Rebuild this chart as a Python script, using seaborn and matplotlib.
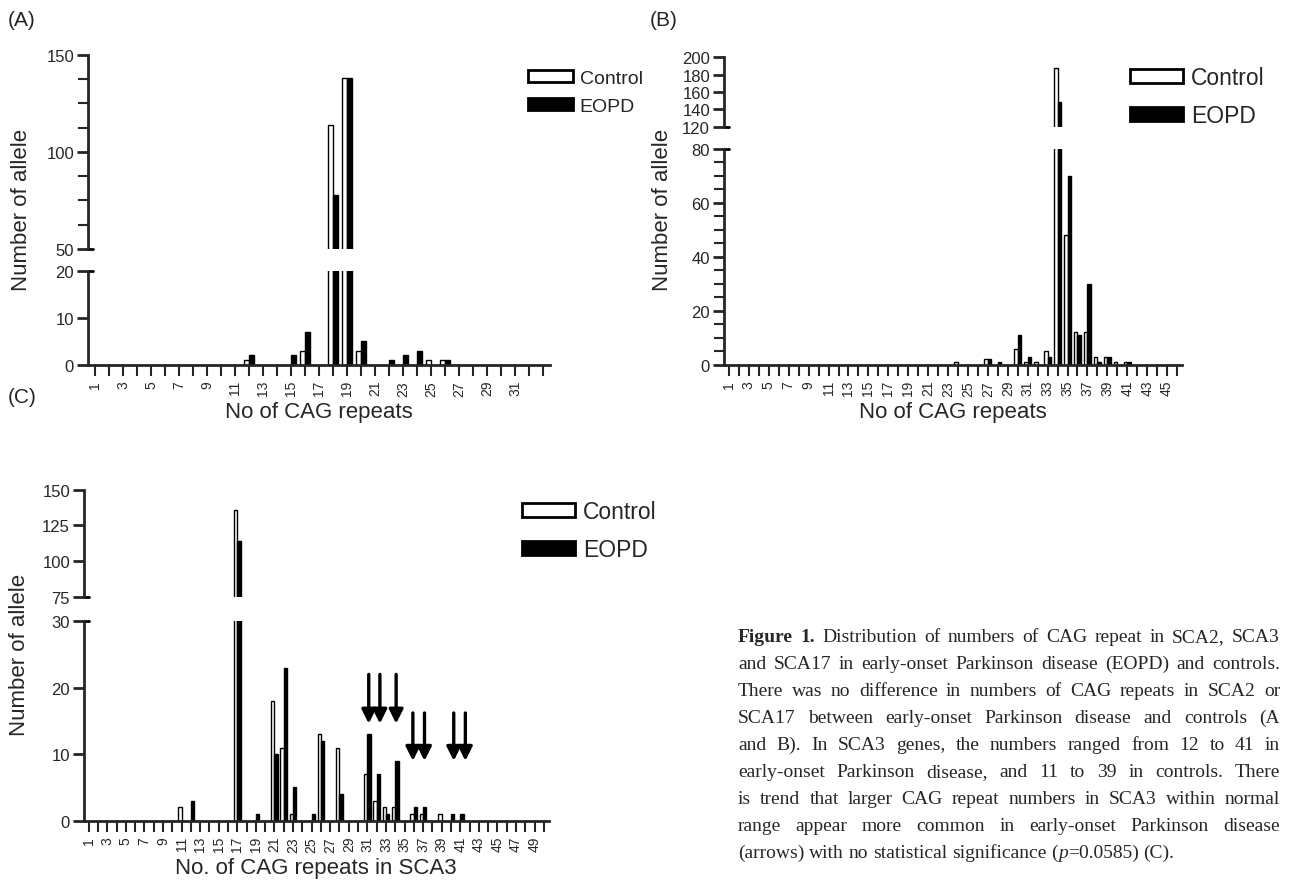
import pandas as pd
import seaborn as sns
import matplotlib.pyplot as plt
import matplotlib.patches as mpatches

# 資料：CAG repeat 次數（只列出非零的）
sca2_rep = [12, 15, 16, 18, 19, 20, 22, 23, 24, 25, 26]
sca2_ctrl = [1, 0, 3, 114, 138, 3, 0, 0, 0, 1, 1]
sca2_eopd = [2, 2, 7, 78, 138, 5, 1, 2, 3, 0, 1]

sca17_rep = [24, 27, 28, 30, 31, 32, 33, 34, 35, 36, 37, 38, 39, 40, 41]
sca17_ctrl = [1, 2, 0, 6, 1, 1, 5, 188, 48, 12, 12, 3, 3, 1, 1]
sca17_eopd = [0, 2, 1, 11, 3, 0, 3, 148, 70, 11, 30, 1, 3, 0, 1]

sca3_rep = [11, 12, 17, 19, 21, 22, 23, 25, 26, 28, 31, 32, 33, 34, 36, 37, 39, 40, 41]
sca3_ctrl = [2, 0, 136, 0, 18, 11, 1, 0, 13, 11, 7, 3, 2, 2, 1, 1, 1, 0, 0]
sca3_eopd = [0, 3, 114, 1, 10, 23, 5, 1, 12, 4, 13, 7, 1, 9, 2, 2, 0, 1, 1]

# 箭頭（SCA3 面板）
arrow_x = [31.15, 32.35, 34.1, 35.9, 37.15, 40.3, 41.55]
arrow_top = [22, 22, 22, 16.2, 16.2, 16.2, 16.2]
arrow_tip = [14.6, 14.6, 14.6, 9, 9, 9, 9]

groups = ['Control', 'EOPD']
pal = {'Control': 'white', 'EOPD': 'black'}

caption = [
    "Figure 1. Distribution of numbers of CAG repeat in SCA2, SCA3",
    "and SCA17 in early-onset Parkinson disease (EOPD) and controls.",
    "There was no difference in numbers of CAG repeats in SCA2 or",
    "SCA17 between early-onset Parkinson disease and controls (A",
    "and B). In SCA3 genes, the numbers ranged from 12 to 41 in",
    "early-onset Parkinson disease, and 11 to 39 in controls. There",
    "is trend that larger CAG repeat numbers in SCA3 within normal",
    "range appear more common in early-onset Parkinson disease",
    "(arrows) with no statistical significance (p=0.0585) (C).",
]

sns.set_theme(style='ticks')
plt.rcParams['font.family'] = ['Liberation Sans', 'DejaVu Sans']

W, H = 1290, 887
fig = plt.figure(figsize=(W / 100, H / 100), dpi=100)


def make_df(reps, ctrl, eopd, n):
    c = dict(zip(reps, ctrl))
    e = dict(zip(reps, eopd))
    rows = [(r, 'Control', c.get(r, 0)) for r in range(1, n + 1)]
    rows += [(r, 'EOPD', e.get(r, 0)) for r in range(1, n + 1)]
    return pd.DataFrame(rows, columns=['repeat', 'group', 'count'])


def px_axes(x0, x1, y0, y1):
    return fig.add_axes([x0 / W, 1 - y1 / H, (x1 - x0) / W, (y1 - y0) / H])


def panel(df, n, x0, x1, top_px, bot_px, top_lim, bot_lim, top_ticks, bot_ticks,
          top_minor, bot_minor, width, xlabel, last_label):
    ax_t = px_axes(x0, x1, *top_px)
    ax_b = px_axes(x0, x1, *bot_px)
    for ax in (ax_t, ax_b):
        sns.barplot(data=df, x='repeat', y='count', hue='group', hue_order=groups,
                    order=list(range(1, n + 1)), palette=pal, saturation=1,
                    edgecolor='black', linewidth=1, width=width, errorbar=None,
                    legend=False, ax=ax)
        ax.set_xlim(-0.5, n - 0.5)
        ax.set_ylabel('')
        ax.set_xlabel('')
        ax.set_facecolor('none')
        for s in ['top', 'right']:
            ax.spines[s].set_visible(False)
        ax.spines['left'].set_linewidth(2)
        ax.tick_params(axis='y', length=8, width=2, labelsize=12, pad=2)
        ax.tick_params(axis='y', which='minor', length=7, width=1.5)
    ax_t.set_ylim(*top_lim)
    ax_b.set_ylim(*bot_lim)
    ax_t.spines['bottom'].set_visible(False)
    ax_t.tick_params(axis='x', bottom=False, labelbottom=False)
    ax_t.set_yticks(top_ticks)
    ax_b.set_yticks(bot_ticks)
    if top_minor:
        ax_t.set_yticks(top_minor, minor=True)
    if bot_minor:
        ax_b.set_yticks(bot_minor, minor=True)
    ax_b.spines['bottom'].set_linewidth(2)
    ax_b.set_xticks(range(n))
    ax_b.set_xticklabels([str(i) if i % 2 == 1 and i <= last_label else ''
                          for i in range(1, n + 1)], rotation=90, fontsize=10)
    ax_b.tick_params(axis='x', length=8, width=1.5, pad=3)
    ax_b.set_xlabel(xlabel, fontsize=16, labelpad=4)
    # 斷軸的端點
    cap = 5 / (x1 - x0)
    ax_t.plot([0, cap], [top_lim[0], top_lim[0]], transform=ax_t.get_yaxis_transform(),
              color='black', lw=2, clip_on=False)
    ax_b.plot([0, cap], [bot_lim[1], bot_lim[1]], transform=ax_b.get_yaxis_transform(),
              color='black', lw=2, clip_on=False)
    return ax_t, ax_b


handles = [mpatches.Patch(facecolor=pal[g], edgecolor='black', linewidth=2, label=g)
           for g in groups]


def legend(x, y, fs, spacing):
    fig.legend(handles=handles, loc='upper left', bbox_to_anchor=(x / W, 1 - y / H),
               frameon=False, fontsize=fs, handlelength=2.3, handleheight=0.55,
               handletextpad=0.35, labelspacing=spacing, borderaxespad=0, borderpad=0)


# (A) SCA2
dfa = make_df(sca2_rep, sca2_ctrl, sca2_eopd, 33)
panel(dfa, 33, 88, 550, (55.7, 250), (272.3, 365.7), (50, 150), (0, 20),
      [50, 100, 150], [0, 10, 20], [62.5, 75, 87.5, 112.5, 125, 137.5], None,
      0.67, 'No of CAG repeats', 31)

# (B) SCA17
dfb = make_df(sca17_rep, sca17_ctrl, sca17_eopd, 46)
panel(dfb, 46, 724, 1182, (58.3, 127.7), (150, 365.7), (120, 200), (0, 80),
      [120, 140, 160, 180, 200], [0, 20, 40, 60, 80], None,
      [5, 10, 15, 25, 30, 35, 45, 50, 55, 65, 70, 75], 0.73, 'No of CAG repeats', 45)

# (C) SCA3
dfc = make_df(sca3_rep, sca3_ctrl, sca3_eopd, 50)
ax_ct, ax_cb = panel(dfc, 50, 84, 548.5, (490.7, 597.7), (622.2, 821.7), (75, 150),
                     (0, 30), [75, 100, 125, 150], [0, 10, 20, 30], None, None,
                     0.72, 'No. of CAG repeats in SCA3', 49)
for xa, yt, yp in zip(arrow_x, arrow_top, arrow_tip):
    ax_cb.annotate('', xy=(xa - 1, yp), xytext=(xa - 1, yt),
                   arrowprops=dict(arrowstyle='-|>', color='black', lw=2.4,
                                   mutation_scale=21, shrinkA=0, shrinkB=0))

legend(528, 71, 14, 0.55)
legend(1130, 67, 16.5, 0.65)
legend(522, 501, 16.5, 0.65)

# y labels and panel letters
for x, y in [(22, 210), (662, 210), (20, 655)]:
    fig.text(x / W, 1 - y / H, 'Number of allele', rotation=90, fontsize=16,
             ha='center', va='center')
for s, x, y in [('(A)', 8, 20), ('(B)', 650, 20), ('(C)', 8, 398)]:
    fig.text(x / W, 1 - y / H, s, fontsize=15, ha='left', va='center')

# 圖說，左右對齊
fig.canvas.draw()
r = fig.canvas.get_renderer()
cap_left, cap_right, base0, lh = 738, 1280, 642, 27
serif = ['Liberation Serif', 'DejaVu Serif']


def seg_width(s, **kw):
    t = fig.text(0, 0, s, fontsize=14, family=serif, **kw)
    w = t.get_window_extent(r).width
    t.remove()
    return w


for i, line in enumerate(caption):
    words = []
    for j, w in enumerate(line.split(' ')):
        if i == 0 and j < 2:
            words.append([(w, {'weight': 'bold'})])
        elif w.startswith('(p='):
            words.append([('(', {}), ('p', {'style': 'italic'}), (w[2:], {})])
        else:
            words.append([(w, {})])
    widths = [sum(seg_width(s, **kw) for s, kw in wd) for wd in words]
    last = i == len(caption) - 1
    gap = seg_width('a a') - 2 * seg_width('a')
    if not last:
        gap = (cap_right - cap_left - sum(widths)) / (len(words) - 1)
    x = cap_left
    y = base0 + i * lh
    for wd, ww in zip(words, widths):
        xx = x
        for s, kw in wd:
            fig.text(xx / W, 1 - y / H, s, fontsize=14, family=serif, va='baseline', **kw)
            xx += seg_width(s, **kw)
        x += ww + gap

fig.savefig('out.png', dpi=100)
